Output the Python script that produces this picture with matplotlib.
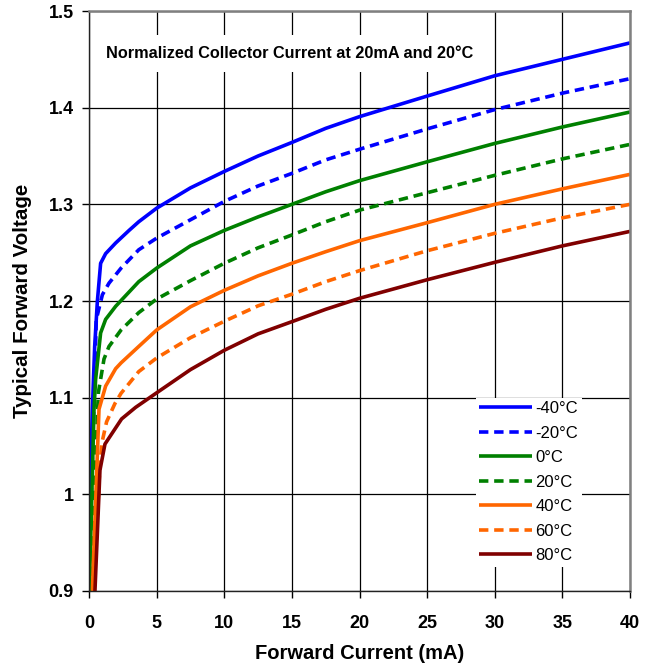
import matplotlib
matplotlib.use("Agg")
import matplotlib.pyplot as plt

plt.rcParams['font.family'] = ['Liberation Sans', 'DejaVu Sans']

labels = ["-40°C", "-20°C", "0°C", "20°C", "40°C", "60°C", "80°C"]
colors = ["#0000FF", "#0000FF", "#008000", "#008000", "#FF6600", "#FF6600", "#800000"]
dashed = [False, True, False, True, False, True, False]

i_m40 = [0.07, 0.25, 0.42, 0.62, 0.86, 1.23, 1.97, 2.96, 3.68, 5, 7.5, 10, 12.5, 15, 17.5, 20, 25, 30, 35, 40]
v_m40 = [1.00, 1.088, 1.153, 1.200, 1.239, 1.249, 1.260, 1.273, 1.282, 1.296, 1.317, 1.334, 1.350, 1.364, 1.3786, 1.3907, 1.412, 1.433, 1.450, 1.467]
i_m20 = [0.07, 0.44, 0.54, 0.99, 1.48, 2.37, 3.68, 5, 7.5, 10, 12.5, 15, 17.5, 20, 25, 30, 35, 40]
v_m20 = [0.95, 1.133, 1.181, 1.2065, 1.2185, 1.234, 1.253, 1.265, 1.284, 1.303, 1.319, 1.332, 1.346, 1.357, 1.378, 1.398, 1.415, 1.430]
i_0 = [0.03, 0.37, 0.49, 0.86, 1.23, 1.97, 3.68, 5, 7.5, 10, 12.5, 15, 17.5, 20, 25, 30, 35, 40]
v_0 = [0.90, 1.088, 1.119, 1.167, 1.181, 1.1945, 1.220, 1.234, 1.257, 1.273, 1.287, 1.300, 1.313, 1.3245, 1.344, 1.363, 1.380, 1.3955]
i_20 = [0.1, 0.69, 1.11, 1.48, 2.37, 3.68, 5, 7.5, 10, 12.5, 15, 17.5, 20, 25, 30, 35, 40]
v_20 = [0.90, 1.105, 1.140, 1.153, 1.170, 1.188, 1.202, 1.221, 1.239, 1.255, 1.2683, 1.282, 1.294, 1.312, 1.330, 1.347, 1.362]
i_40 = [0.25, 0.74, 1.23, 1.97, 2.37, 3.68, 5, 7.5, 10, 12.5, 15, 17.5, 20, 25, 30, 35, 40]
v_40 = [0.90, 1.088, 1.112, 1.130, 1.136, 1.153, 1.170, 1.194, 1.211, 1.226, 1.239, 1.251, 1.2624, 1.281, 1.300, 1.316, 1.331]
i_60 = [0.35, 0.8, 0.95, 1.3, 1.92, 2.37, 3.68, 5, 7.5, 10, 12.5, 15, 17.5, 20, 25, 30, 35, 40]
v_60 = [0.90, 1.028, 1.053, 1.075, 1.094, 1.1045, 1.127, 1.141, 1.162, 1.179, 1.195, 1.207, 1.220, 1.2314, 1.252, 1.270, 1.286, 1.300]
i_80 = [0.44, 0.81, 1.18, 2.41, 3.45, 5, 7.5, 10, 12.5, 15, 17.5, 20, 25, 30, 35, 40]
v_80 = [0.90, 1.025, 1.052, 1.078, 1.090, 1.105, 1.129, 1.149, 1.166, 1.1786, 1.1914, 1.2028, 1.222, 1.240, 1.257, 1.272]

currents = [i_m40, i_m20, i_0, i_20, i_40, i_60, i_80]
voltages = [v_m40, v_m20, v_0, v_20, v_40, v_60, v_80]

x_ticks = [0, 5, 10, 15, 20, 25, 30, 35, 40]
y_ticks = [0.9, 1.0, 1.1, 1.2, 1.3, 1.4, 1.5]
y_tick_labels = ["0.9", "1", "1.1", "1.2", "1.3", "1.4", "1.5"]

title_text = "Normalized Collector Current at 20mA and 20°C"

fig = plt.figure(figsize=(6.52, 6.68), dpi=100)
ax = fig.add_axes([89/652, 1 - 591/668, (630-89)/652, (591-11)/668])

for I, V, lab, c, d in zip(currents, voltages, labels, colors, dashed):
    ln, = ax.plot(I, V, color=c, lw=2.6, label=lab, solid_joinstyle='round',
                  solid_capstyle='butt')
    if d:
        ln.set_dashes([2.6, 1.6])

ax.set_xlim(0, 40)
ax.set_ylim(0.9, 1.5)
ax.set_xticks(x_ticks)
ax.set_yticks(y_ticks)
ax.set_yticklabels(y_tick_labels)
ax.grid(True, color="black", lw=0.9)
ax.set_axisbelow(True)
for lab in ax.get_xticklabels() + ax.get_yticklabels():
    lab.set_fontweight('bold')
ax.tick_params(axis='both', direction='out', length=5, width=1, labelsize=13)
ax.tick_params(axis='x', pad=12)
ax.tick_params(axis='y', pad=6)
for s in ['top', 'right']:
    ax.spines[s].set_color('#808080')
    ax.spines[s].set_linewidth(1.8)
for s in ['left', 'bottom']:
    ax.spines[s].set_color('#222222')
    ax.spines[s].set_linewidth(1.0)

ax.set_xlabel("Forward Current (mA)", fontsize=14.5, fontweight='bold', labelpad=9)
ax.set_ylabel("Typical Forward Voltage", fontsize=14.8, fontweight='bold', labelpad=12)

ax.text(0.032, 0.927, title_text, transform=ax.transAxes, fontsize=11.7,
        fontweight='bold', ha='left', va='center',
        bbox=dict(facecolor='white', edgecolor='none', pad=8))

leg = ax.legend(loc='upper left', bbox_to_anchor=(0.715, 0.333), fontsize=12,
                frameon=True, facecolor='white', edgecolor='none', framealpha=1,
                fancybox=False, handlelength=3.2, handletextpad=0.18,
                labelspacing=0.57, borderpad=0.2, borderaxespad=0)

fig.savefig("out.png", dpi=100)
